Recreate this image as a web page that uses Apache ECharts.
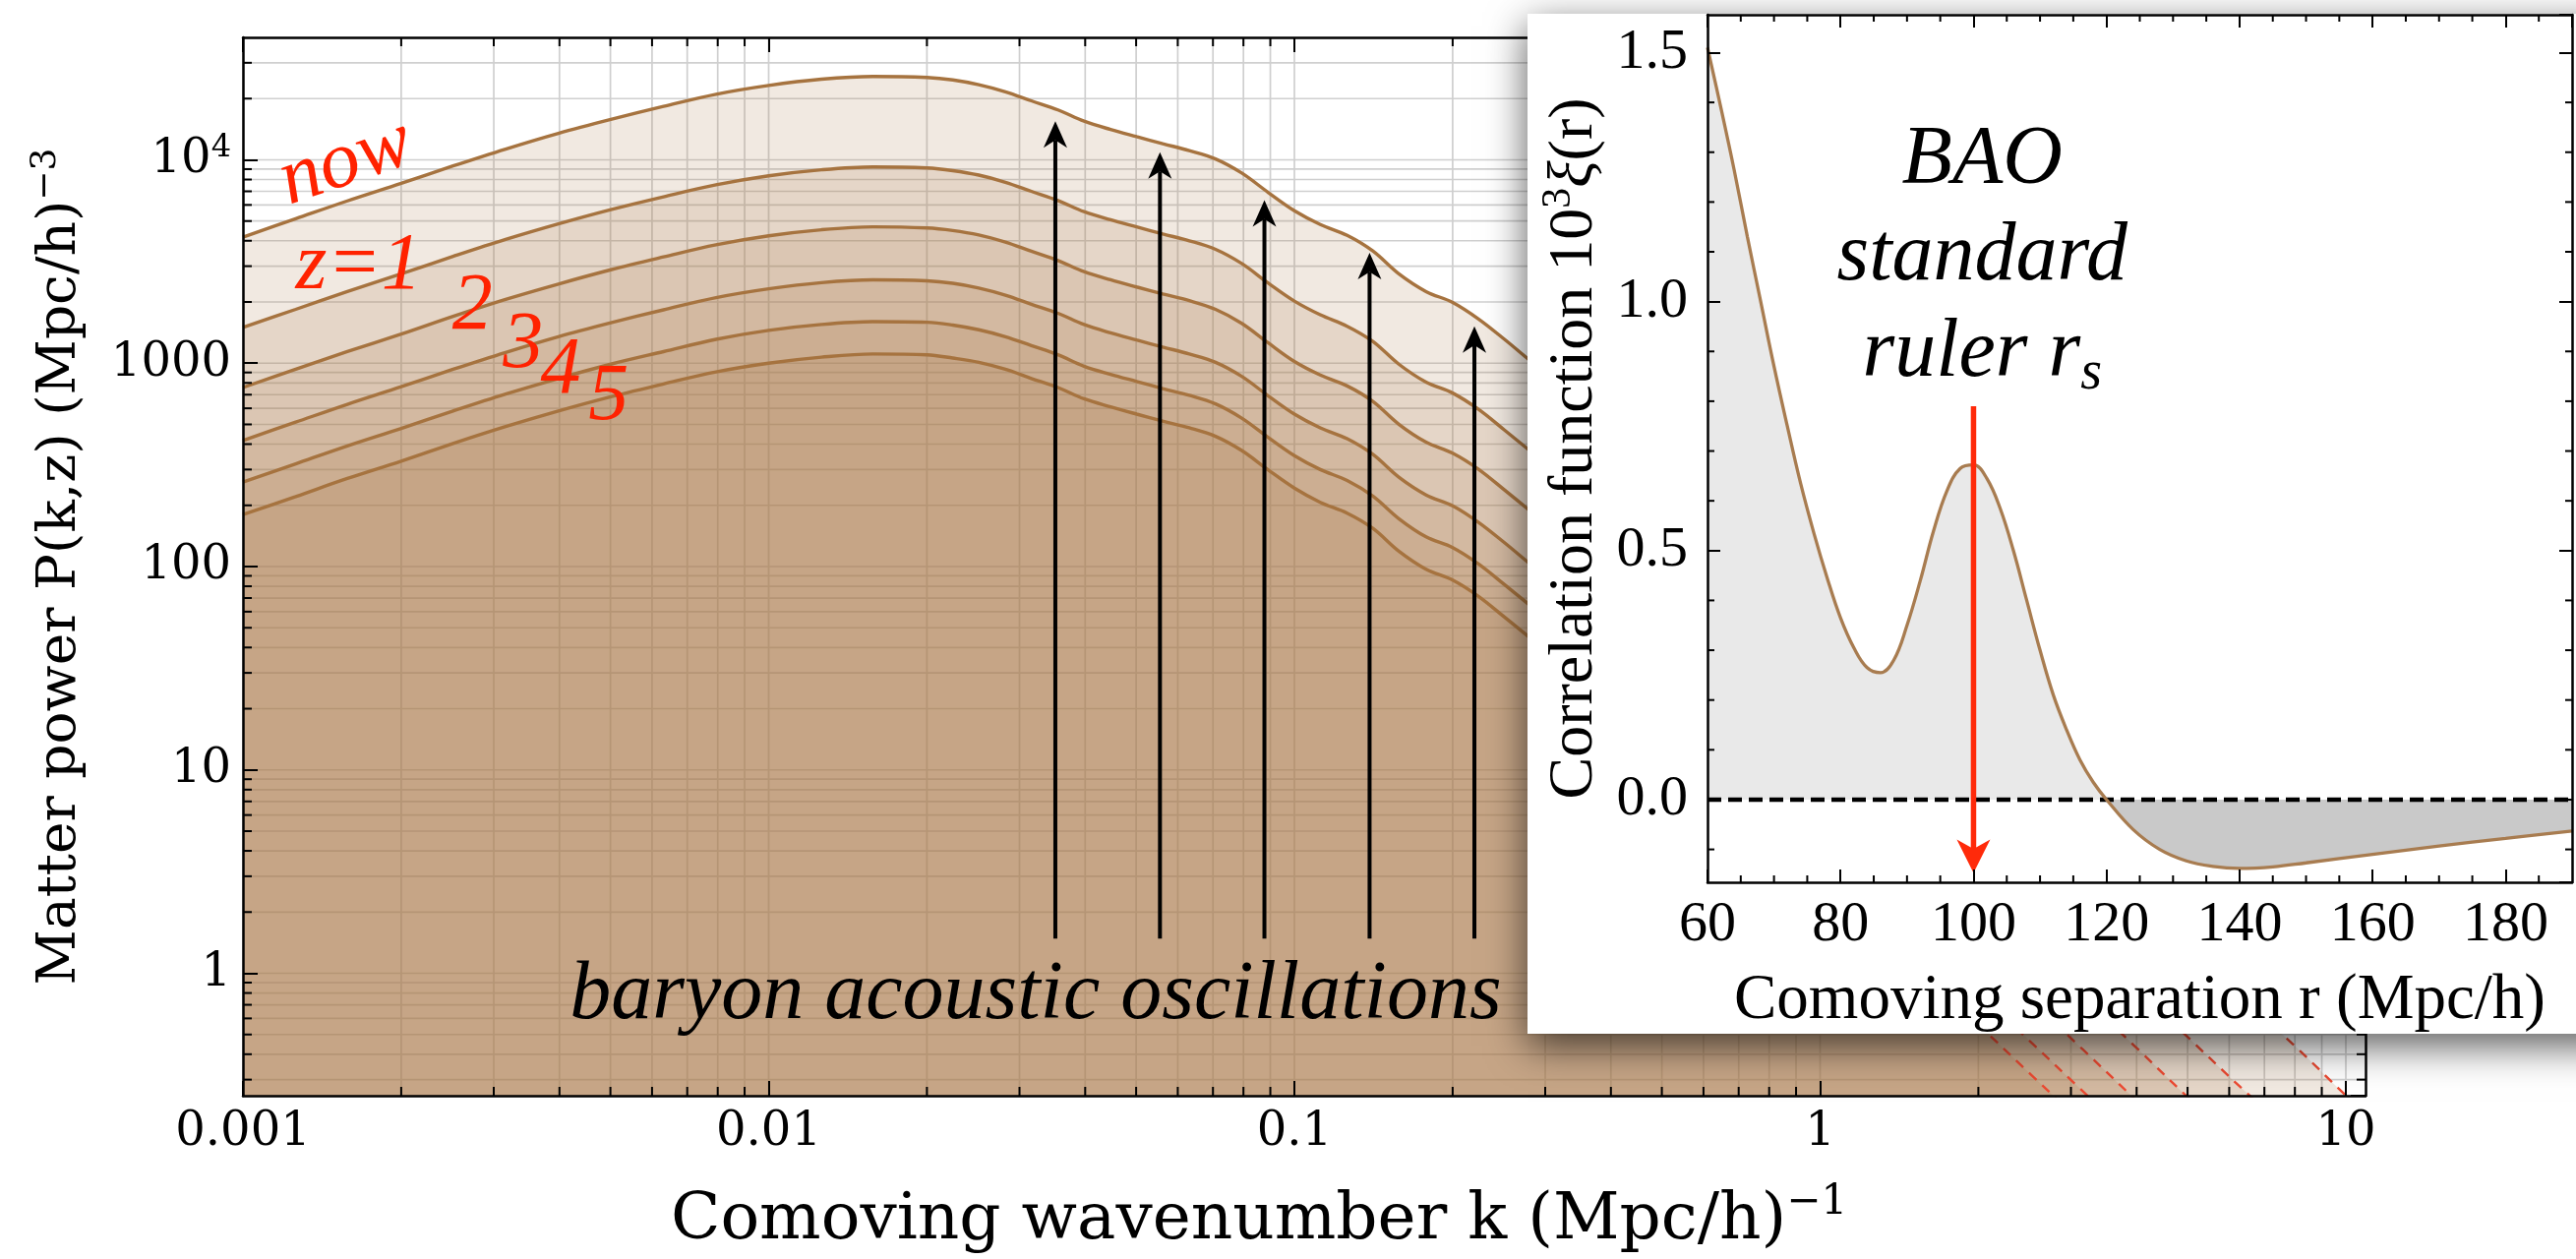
<!DOCTYPE html>
<html><head><meta charset="utf-8">
<script src="https://cdn.jsdelivr.net/npm/echarts@6/dist/echarts.min.js"></script>
<style>html,body{margin:0;padding:0;background:#fff}#c{width:2619px;height:1280px}</style>
</head><body><div id="c"></div>
<script>
// ---------------- main panel data: matter power spectrum P(k,z) ----------------
const kValues = [0.001, 0.00126, 0.00158, 0.002, 0.00251, 0.00316, 0.00398, 0.00501, 0.00631, 0.00794, 0.01, 0.0126, 0.0158, 0.02,
  0.0224, 0.0251, 0.0282, 0.0316, 0.0355, 0.0398, 0.0447, 0.0501, 0.0562, 0.0631, 0.0708, 0.0794, 0.0891, 0.1, 0.112, 0.126, 0.141, 0.158, 0.178, 0.2, 0.224, 0.251, 0.282, 0.316,
  0.398, 0.501, 0.631, 0.794, 1, 1.26, 1.58, 2, 2.51, 3.16, 3.98, 5.01, 6.31, 7.94, 10, 11];
const pNow = [4170, 5130, 6280, 7660, 9330, 11300, 13500, 15800, 18300, 21000, 23200, 24900, 25700, 25400,
  24700, 23400, 21600, 19500, 17600, 15500, 14100, 13000, 12000, 11100, 10100, 8610, 6920, 5620, 4810, 4250, 3560, 2750, 2250, 1990, 1650, 1310, 1020, 804,
  496, 302, 183, 110, 65.3, 38.5, 22.4, 12.9, 7.41, 4.22, 2.39, 1.35, 0.767, 0.447, 0.251, 0.2];
const pZ1 = [1500, 1840, 2250, 2750, 3350, 4060, 4840, 5690, 6580, 7530, 8340, 8930, 9230, 9120,
  8850, 8410, 7760, 7000, 6310, 5560, 5070, 4680, 4320, 4000, 3630, 3090, 2480, 2020, 1730, 1520, 1280, 989, 807, 713, 593, 469, 367, 288,
  178, 108, 65.6, 39.4, 23.4, 13.8, 8.04, 4.65, 2.66, 1.51, 0.857, 0.484, 0.275, 0.16, 0.0902, 0.0716];
const pZ2 = [759, 933, 1140, 1390, 1700, 2060, 2450, 2880, 3330, 3820, 4230, 4530, 4680, 4620,
  4490, 4270, 3940, 3550, 3200, 2820, 2570, 2370, 2190, 2030, 1840, 1570, 1260, 1020, 875, 773, 649, 501, 409, 361, 301, 238, 186, 146,
  90.2, 55, 33.3, 20, 11.9, 7, 4.07, 2.36, 1.35, 0.767, 0.435, 0.245, 0.14, 0.0813, 0.0457, 0.0363];
const pZ3 = [417, 513, 628, 766, 933, 1130, 1350, 1580, 1830, 2100, 2320, 2490, 2570, 2540,
  2470, 2340, 2160, 1950, 1760, 1550, 1410, 1300, 1200, 1110, 1010, 861, 692, 562, 481, 425, 356, 275, 225, 199, 165, 131, 102, 80.4,
  49.6, 30.2, 18.3, 11, 6.53, 3.85, 2.24, 1.29, 0.741, 0.422, 0.239, 0.135, 0.0767, 0.0447, 0.0251, 0.02];
const pZ4 = [260, 320, 392, 478, 582, 705, 841, 989, 1140, 1310, 1450, 1550, 1600, 1590,
  1540, 1460, 1350, 1220, 1100, 966, 881, 813, 750, 695, 631, 537, 432, 351, 300, 265, 222, 172, 140, 124, 103, 81.5, 63.8, 50.1,
  30.9, 18.8, 11.4, 6.84, 4.07, 2.4, 1.4, 0.807, 0.462, 0.263, 0.149, 0.0841, 0.0479, 0.0279, 0.0157, 0.0124];
const pZ5 = [180, 221, 271, 330, 403, 488, 582, 684, 791, 906, 1000, 1070, 1110, 1100,
  1060, 1010, 933, 841, 759, 668, 610, 562, 519, 481, 437, 372, 299, 243, 207, 183, 154, 119, 97, 85.7, 71.3, 56.4, 44.2, 34.7,
  21.4, 13, 7.89, 4.73, 2.82, 1.66, 0.966, 0.558, 0.32, 0.182, 0.103, 0.0582, 0.0331, 0.0193, 0.0108, 0.0086];
const curveNames = ['now', 'z=1', 'z=2', 'z=3', 'z=4', 'z=5'];
const nonlinearFromK = 1;          // curves drawn red-dashed from this k on

// BAO arrows (k position, arrow base and tip in P)
const arrowK = [0.0351, 0.0555, 0.0877, 0.139, 0.220];
const arrowTipP = [15500, 10900, 6340, 3490, 1520];
const arrowBaseP = 1.48;

// axis ticks
const xMajorTicks = [0.001, 0.01, 0.1, 1, 10];
const xTickLabels = ['0.001', '0.01', '0.1', '1', '10'];
const xMinorTicks = [0.002, 0.003, 0.004, 0.005, 0.006, 0.007, 0.008, 0.009, 0.02, 0.03, 0.04, 0.05, 0.06, 0.07, 0.08, 0.09,
  0.2, 0.3, 0.4, 0.5, 0.6, 0.7, 0.8, 0.9, 2, 3, 4, 5, 6, 7, 8, 9];
const yMajorTicks = [1, 10, 100, 1000, 10000];
const yTickLabels = ['1', '10', '100', '1000', '{b|10}{s|4}'];
const yMinorTicks = [0.3, 0.4, 0.5, 0.6, 0.7, 0.8, 0.9, 2, 3, 4, 5, 6, 7, 8, 9, 20, 30, 40, 50, 60, 70, 80, 90,
  200, 300, 400, 500, 600, 700, 800, 900, 2000, 3000, 4000, 5000, 6000, 7000, 8000, 9000, 20000, 30000];

// text annotations anchored in data space (k, P)
const mainTags = [
  { text: 'now', k: 0.00157, p: 9680, rotate: 19, color: '#ff2200', size: 82 },
  { text: 'z=1', k: 0.00166, p: 2970, color: '#ff2200', size: 82 },
  { text: '2', k: 0.00273, p: 1880, color: '#ff2200', size: 82 },
  { text: '3', k: 0.00341, p: 1222, color: '#ff2200', size: 82 },
  { text: '4', k: 0.00402, p: 914, color: '#ff2200', size: 82 },
  { text: '5', k: 0.00496, p: 678, color: '#ff2200', size: 82 },
  { text: 'baryon acoustic oscillations', k: 0.0322, p: 0.774, color: '#000', size: 84 }
];

// ---------------- inset data: correlation function ----------------
const rValues = [60, 62, 64, 66, 68, 70, 72, 74, 76, 78, 80, 82, 84, 86, 88, 90, 92, 94, 96, 98, 100, 102, 104, 106, 108, 110,
  112, 114, 116, 118, 120, 124, 128, 132, 136, 140, 145, 150, 160, 170, 180, 190];
const xiValues = [1.51, 1.39, 1.265, 1.13, 1.0, 0.87, 0.75, 0.635, 0.535, 0.445, 0.365, 0.305, 0.265, 0.255, 0.28, 0.35, 0.44, 0.54, 0.62, 0.665, 0.672, 0.645, 0.585, 0.50, 0.40, 0.30,
  0.21, 0.14, 0.08, 0.035, 0.0, -0.06, -0.10, -0.123, -0.134, -0.138, -0.135, -0.127, -0.110, -0.093, -0.078, -0.063];
const rMajorTicks = [60, 80, 100, 120, 140, 160, 180];
const rMinorTicks = [65, 70, 75, 85, 90, 95, 105, 110, 115, 125, 130, 135, 145, 150, 155, 165, 170, 175, 185];
const xiMajorTicks = [0, 0.5, 1.0, 1.5];
const xiMinorTicks = [-0.1, 0.1, 0.2, 0.3, 0.4, 0.6, 0.7, 0.8, 0.9, 1.1, 1.2, 1.3, 1.4];
const rsArrow = { r: 100, from: 0.79, to: -0.147 };
const zeroLine = [[60, 0], [190, 0]];
const rulerTag = { r: 101.3, xi: 1.089 };

// ---------------- helpers ----------------
const SERIF = 'Liberation Serif';
const WIDE = 'DejaVu Serif';
function matchLabel(v, ticks, labels, log) {
  for (let i = 0; i < ticks.length; i++) {
    const d = log ? Math.abs(Math.log10(v) - Math.log10(ticks[i])) : Math.abs(v - ticks[i]);
    if (d < 1e-6) return labels[i];
  }
  return '';
}
function vLines(opts) {
  return function (params, api) {
    const cs = params.coordSys;
    const x = api.coord([api.value(0), api.value(1)])[0];
    const top = cs.y, bot = cs.y + cs.height;
    const st = { stroke: opts.color, lineWidth: opts.width };
    if (opts.full) return { type: 'line', shape: { x1: x, y1: top, x2: x, y2: bot }, style: st };
    return { type: 'group', children: [
      { type: 'line', shape: { x1: x, y1: top, x2: x, y2: top + opts.len }, style: st },
      { type: 'line', shape: { x1: x, y1: bot, x2: x, y2: bot - opts.len }, style: st }] };
  };
}
function hLines(opts) {
  return function (params, api) {
    const cs = params.coordSys;
    const y = api.coord([api.value(0), api.value(1)])[1];
    const l = cs.x, r = cs.x + cs.width;
    const st = { stroke: opts.color, lineWidth: opts.width };
    if (opts.full) return { type: 'line', shape: { x1: l, y1: y, x2: r, y2: y }, style: st };
    return { type: 'group', children: [
      { type: 'line', shape: { x1: l, y1: y, x2: l + opts.len, y2: y }, style: st },
      { type: 'line', shape: { x1: r, y1: y, x2: r - opts.len, y2: y }, style: st }] };
  };
}
// arrow from (x, y0) to (x, y1) in data space, with a notched head
function arrows(opts) {
  return function (params, api) {
    const a = api.coord([api.value(0), api.value(1)]);
    const b = api.coord([api.value(0), api.value(2)]);
    const dx = b[0] - a[0], dy = b[1] - a[1];
    const len = Math.sqrt(dx * dx + dy * dy) || 1;
    const ux = dx / len, uy = dy / len, px = -uy, py = ux;
    const hl = opts.headLen, hw = opts.headWidth / 2;
    const bx = b[0] - ux * hl, by = b[1] - uy * hl;
    const nx = b[0] - ux * hl * 0.72, ny = b[1] - uy * hl * 0.72;
    return { type: 'group', children: [
      { type: 'line', shape: { x1: a[0], y1: a[1], x2: nx, y2: ny }, style: { stroke: opts.color, lineWidth: opts.width } },
      { type: 'polygon', shape: { points: [[b[0], b[1]], [bx + px * hw, by + py * hw], [nx, ny], [bx - px * hw, by - py * hw]] },
        style: { fill: opts.color } }] };
  };
}
function tagText(list) {
  return function (params, api) {
    const t = list[params.dataIndex];
    const p = api.coord([api.value(0), api.value(1)]);
    return { type: 'text', x: p[0], y: p[1], rotation: (t.rotate || 0) * Math.PI / 180,
      style: { text: t.text, fill: t.color, fontFamily: SERIF, fontStyle: 'italic', fontSize: t.size,
        align: 'center', verticalAlign: 'middle' } };
  };
}

const curves = [pNow, pZ1, pZ2, pZ3, pZ4, pZ5];
const series = [];
// grid lines (under the semi-transparent fills)
series.push({ type: 'custom', name: 'gridX', xAxisIndex: 0, yAxisIndex: 0, z: 1, silent: true,
  data: xMajorTicks.concat(xMinorTicks).map(v => [v, 1]), renderItem: vLines({ full: true, color: '#cfcfcf', width: 1.7 }) });
series.push({ type: 'custom', name: 'gridY', xAxisIndex: 0, yAxisIndex: 0, z: 1, silent: true,
  data: yMajorTicks.concat(yMinorTicks).map(v => [0.01, v]), renderItem: hLines({ full: true, color: '#cfcfcf', width: 1.7 }) });
// fills
curves.forEach((arr, i) => {
  series.push({ type: 'line', name: curveNames[i] + ' fill', xAxisIndex: 0, yAxisIndex: 0, z: 2, silent: true,
    data: kValues.map((k, j) => [k, arr[j]]), symbol: 'none', showSymbol: false, smooth: 0.35,
    lineStyle: { width: 0, opacity: 0 }, areaStyle: { color: 'rgba(167,122,71,0.165)', opacity: 1, origin: 'start' } });
});
// solid (linear) curves and dashed high-k parts
curves.forEach((arr, i) => {
  const pts = kValues.map((k, j) => [k, arr[j]]);
  series.push({ type: 'line', name: curveNames[i], xAxisIndex: 0, yAxisIndex: 0, z: 3, silent: true,
    data: pts.filter(p => p[0] <= nonlinearFromK), symbol: 'none', showSymbol: false, smooth: 0.35,
    lineStyle: { color: '#a6733f', width: 3.4 } });
  series.push({ type: 'line', name: curveNames[i] + ' nonlinear', xAxisIndex: 0, yAxisIndex: 0, z: 3, silent: true,
    data: pts.filter(p => p[0] >= nonlinearFromK), symbol: 'none', showSymbol: false, smooth: 0.35,
    lineStyle: { color: '#ec4a32', width: 2.4, type: [10, 8] } });
});
// BAO arrows
series.push({ type: 'custom', name: 'bao arrows', xAxisIndex: 0, yAxisIndex: 0, z: 4, silent: true,
  data: arrowK.map((k, i) => [k, arrowBaseP, arrowTipP[i]]),
  renderItem: arrows({ color: '#000', width: 4, headLen: 27, headWidth: 24 }) });
// minor ticks (over fills)
series.push({ type: 'custom', name: 'ticksX', xAxisIndex: 0, yAxisIndex: 0, z: 11, silent: true,
  data: xMinorTicks.map(v => [v, 1]), renderItem: vLines({ len: 9, color: '#000', width: 2 }) });
series.push({ type: 'custom', name: 'ticksY', xAxisIndex: 0, yAxisIndex: 0, z: 11, silent: true,
  data: yMinorTicks.map(v => [0.01, v]), renderItem: hLines({ len: 9, color: '#000', width: 2 }) });
// annotations
series.push({ type: 'custom', name: 'tags', xAxisIndex: 0, yAxisIndex: 0, z: 6, silent: true,
  data: mainTags.map(t => [t.k, t.p]), renderItem: tagText(mainTags) });

// ---------------- inset series ----------------
const insetAreaIndex = series.length;
series.push({ id: 'xiFill', type: 'line', name: 'xi fill', xAxisIndex: 2, yAxisIndex: 2, z: 25, silent: true,
  data: rValues.map((r, i) => [r, xiValues[i]]), symbol: 'none', showSymbol: false, smooth: 0.4,
  lineStyle: { width: 0, opacity: 0 }, areaStyle: { color: '#e9e9e9', opacity: 1, origin: 0 } });
series.push({ type: 'line', name: 'zero', xAxisIndex: 2, yAxisIndex: 2, z: 26, silent: true,
  data: zeroLine, symbol: 'none', showSymbol: false,
  lineStyle: { color: '#000', width: 4.5, type: [14, 7] } });
series.push({ type: 'line', name: 'xi', xAxisIndex: 2, yAxisIndex: 2, z: 26, silent: true,
  data: rValues.map((r, i) => [r, xiValues[i]]), symbol: 'none', showSymbol: false, smooth: 0.4,
  lineStyle: { color: '#a87c50', width: 3.3 } });
series.push({ type: 'custom', name: 'rs arrow', xAxisIndex: 2, yAxisIndex: 2, z: 27, silent: true,
  data: [[rsArrow.r, rsArrow.from, rsArrow.to]],
  renderItem: arrows({ color: '#ff2a0a', width: 5.5, headLen: 34, headWidth: 34 }) });
series.push({ type: 'custom', name: 'insetTicksX', xAxisIndex: 2, yAxisIndex: 2, z: 31, silent: true,
  data: rMinorTicks.map(v => [v, 0]), renderItem: vLines({ len: 7, color: '#000', width: 2 }) });
series.push({ type: 'custom', name: 'insetTicksY', xAxisIndex: 2, yAxisIndex: 2, z: 31, silent: true,
  data: xiMinorTicks.map(v => [100, v]), renderItem: hLines({ len: 7, color: '#000', width: 2 }) });
series.push({ type: 'custom', name: 'ruler', xAxisIndex: 2, yAxisIndex: 2, z: 28, silent: true,
  data: [[rulerTag.r, rulerTag.xi]],
  renderItem: function (params, api) {
    const p = api.coord([api.value(0), api.value(1)]);
    return { type: 'text', x: p[0], y: p[1], style: {
      text: '{a|BAO}\n{a|standard}\n{a|ruler r}{s|s}', align: 'center', verticalAlign: 'middle',
      rich: { a: { fontFamily: SERIF, fontStyle: 'italic', fontSize: 84, lineHeight: 98, fill: '#000' },
        s: { fontFamily: SERIF, fontStyle: 'italic', fontSize: 56, lineHeight: 60, verticalAlign: 'bottom', fill: '#000' } } } };
  } });

// ---------------- axes ----------------
const blackLine = { show: true, onZero: false, lineStyle: { color: '#000', width: 2.5 } };
const mainTick = { show: true, inside: true, length: 15, lineStyle: { color: '#000', width: 2 } };
const insetTick = { show: true, inside: true, length: 13, lineStyle: { color: '#000', width: 2 } };
const off = { show: false };

const option = {
  animation: false,
  backgroundColor: '#fff',
  grid: [
    { left: 247, top: 38, width: 2158, height: 1079, containLabel: false },
    { left: 1736, top: 15, width: 879, height: 882, containLabel: false }
  ],
  xAxis: [
    { type: 'log', gridIndex: 0, min: 0.001, max: 10.9, position: 'bottom', z: 10,
      axisLine: blackLine, axisTick: mainTick, splitLine: off, minorTick: off, minorSplitLine: off,
      axisLabel: { margin: 14, fontFamily: WIDE, fontSize: 48, color: '#000', showMaxLabel: false,
        formatter: v => matchLabel(v, xMajorTicks, xTickLabels, true) },
      name: '{a|Comoving wavenumber k (Mpc/h)}{s|−1}', nameLocation: 'middle', nameGap: 88,
      nameTextStyle: { padding: [0, 92, 0, 0], rich: {
        a: { fontFamily: WIDE, fontSize: 66, lineHeight: 80, color: '#000' },
        s: { fontFamily: WIDE, fontSize: 42, lineHeight: 50, verticalAlign: 'top', color: '#000' } } } },
    { type: 'log', gridIndex: 0, min: 0.001, max: 10.9, position: 'top', z: 10,
      axisLine: blackLine, axisTick: mainTick, splitLine: off, axisLabel: off },
    { type: 'value', gridIndex: 1, min: 60, max: 190, interval: 20, position: 'bottom', z: 30,
      axisLine: blackLine, axisTick: insetTick, splitLine: off,
      axisLabel: { margin: 15, fontFamily: SERIF, fontSize: 58, color: '#000', showMaxLabel: false,
        formatter: v => matchLabel(v, rMajorTicks, rMajorTicks.map(String), false) },
      name: 'Comoving separation r (Mpc/h)', nameLocation: 'middle', nameGap: 88,
      nameTextStyle: { fontFamily: SERIF, fontSize: 65, color: '#000' } },
    { type: 'value', gridIndex: 1, min: 60, max: 190, interval: 20, position: 'top', z: 30,
      axisLine: blackLine, axisTick: insetTick, splitLine: off, axisLabel: off }
  ],
  yAxis: [
    { type: 'log', gridIndex: 0, min: 0.25, max: 40000, position: 'left', z: 10,
      axisLine: blackLine, axisTick: mainTick, splitLine: off, minorTick: off, minorSplitLine: off,
      axisLabel: { margin: 12, fontFamily: WIDE, fontSize: 48, color: '#000', showMinLabel: false, showMaxLabel: false,
        formatter: v => matchLabel(v, yMajorTicks, yTickLabels, true),
        rich: { b: { fontFamily: WIDE, fontSize: 48, lineHeight: 56, color: '#000' },
          s: { fontFamily: WIDE, fontSize: 32, lineHeight: 36, verticalAlign: 'top', color: '#000' } } },
      name: '{a|Matter power P(k,z) (Mpc/h)}{s|−3}', nameLocation: 'middle', nameGap: 152, nameRotate: 90,
      nameTextStyle: { rich: {
        a: { fontFamily: WIDE, fontSize: 55, lineHeight: 66, color: '#000' },
        s: { fontFamily: WIDE, fontSize: 36, lineHeight: 40, verticalAlign: 'top', color: '#000' } } } },
    { type: 'log', gridIndex: 0, min: 0.25, max: 40000, position: 'right', z: 10,
      axisLine: blackLine, axisTick: mainTick, splitLine: off, axisLabel: off },
    { type: 'value', gridIndex: 1, min: -0.166, max: 1.576, splitNumber: 3, position: 'left', z: 30,
      axisLine: blackLine, axisTick: insetTick, splitLine: off,
      axisLabel: { margin: 20, fontFamily: SERIF, fontSize: 58, color: '#000', showMinLabel: false, showMaxLabel: false,
        formatter: v => matchLabel(v, xiMajorTicks, xiMajorTicks.map(t => t.toFixed(1)), false) },
      name: '{a|Correlation function 10}{s|3}{g|ξ}{a|(r)}', nameLocation: 'middle', nameGap: 98, nameRotate: 90,
      nameTextStyle: { rich: {
        a: { fontFamily: SERIF, fontSize: 64, lineHeight: 74, color: '#000' },
        g: { fontFamily: SERIF, fontStyle: 'italic', fontSize: 64, lineHeight: 74, color: '#000' },
        s: { fontFamily: SERIF, fontSize: 42, lineHeight: 46, verticalAlign: 'top', color: '#000' } } } },
    { type: 'value', gridIndex: 1, min: -0.166, max: 1.576, splitNumber: 3, position: 'right', z: 30,
      axisLine: blackLine, axisTick: insetTick, splitLine: off, axisLabel: off }
  ],
  graphic: { elements: [
    { type: 'rect', z: 20, silent: true, shape: { x: 1553, y: 14, width: 1120, height: 1037 },
      style: { fill: '#fff', shadowBlur: 38, shadowColor: 'rgba(0,0,0,0.65)', shadowOffsetX: 0, shadowOffsetY: 12 } }
  ] },
  series: series
};

const chart = echarts.init(document.getElementById('c'), null, { renderer: 'canvas', width: 2619, height: 1280 });
chart.setOption(option);
// two-tone inset fill: light grey above xi = 0, darker grey below (split found through the inset's own y scale)
const zeroPx = chart.convertToPixel({ seriesIndex: insetAreaIndex }, [100, 0])[1];
const H = chart.getHeight();
const f = Math.min(1, Math.max(0, zeroPx / H));
chart.setOption({ series: [{ id: 'xiFill', areaStyle: { opacity: 1, origin: 0, color: new echarts.graphic.LinearGradient(0, 0, 0, H, [
  { offset: 0, color: '#e9e9e9' }, { offset: f, color: '#e9e9e9' }, { offset: f, color: '#c9c9c9' }, { offset: 1, color: '#c9c9c9' }], true) } }] });
</script></body></html>
